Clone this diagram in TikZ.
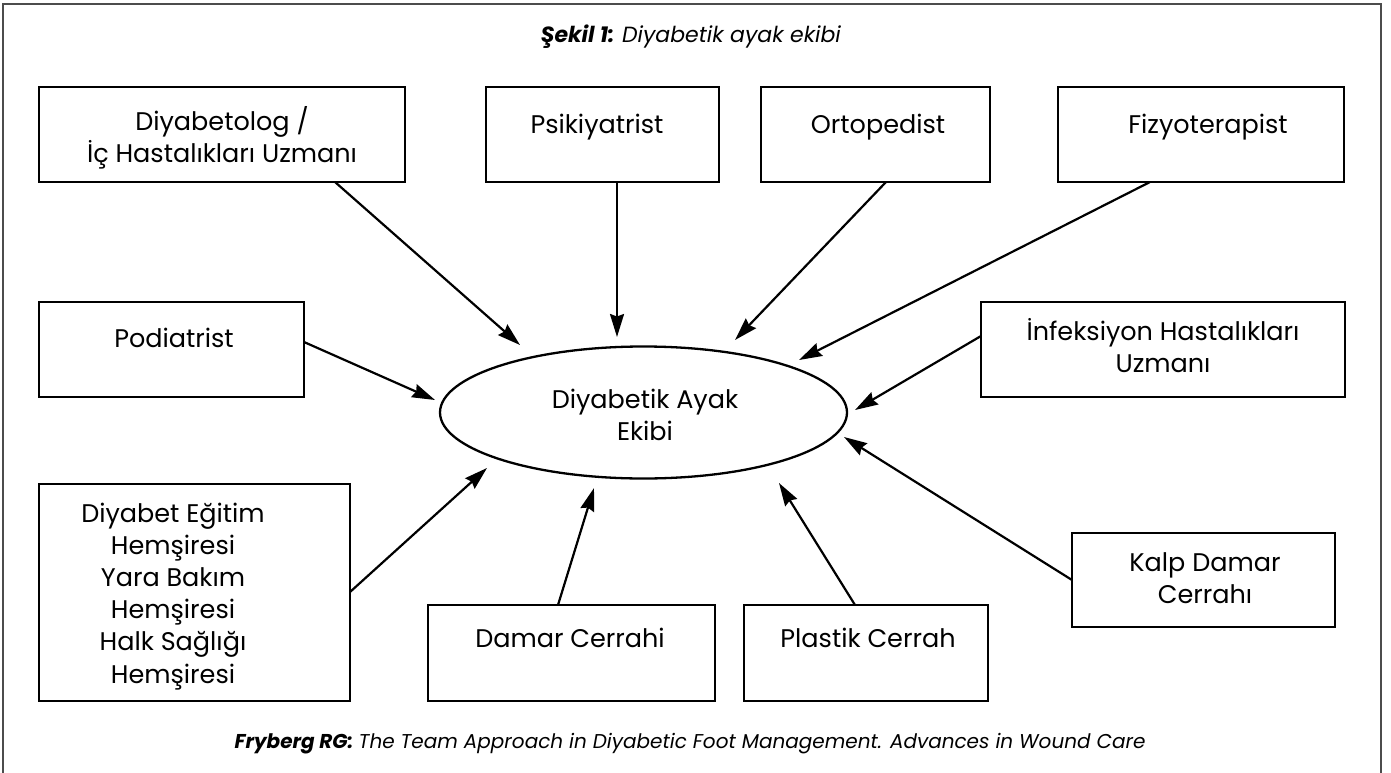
\documentclass[tikz,border=0pt]{standalone}
\usepackage{fontspec}
\setmainfont{Poppins}
\usetikzlibrary{arrows.meta,shapes.geometric,calc}
\tikzset{
  box/.style={draw, line width=2.4pt, inner sep=0pt, outer sep=0pt},
  lbl/.style={font=\fontsize{25.5}{31.5}\selectfont, align=center, inner sep=0pt, anchor=base},
  captext/.style={inner sep=0pt, anchor=base},
  arr/.style={line width=2.2pt, -{Stealth[length=23pt,width=14pt,inset=2.5pt]}},
  framel/.style={draw=black!70, line width=1.6pt}
}
\begin{document}
\begin{tikzpicture}[x=1pt,y=-1pt]
\useasboundingbox (0,0) rectangle (1391,773);
\draw[framel] (3,773) -- (3,4) -- (1381,4) -- (1381,773);

\node[captext, font=\fontsize{22}{24}\selectfont] (title) at (691,43) {\textbf{\textit{Şekil 1:}} \textit{Diyabetik ayak ekibi}};
\node[captext, font=\fontsize{20}{24}\selectfont] (foot) at (690,748) {\textbf{\textit{Fryberg RG:}} \textit{The Team Approach in Diyabetic Foot Management. Advances in Wound Care}};

% boxes
\node[box, minimum width=366pt, minimum height=95pt] (diab) at (222,134.5) {};
\node[box, minimum width=233pt, minimum height=95pt] (psik) at (602.5,134.5) {};
\node[box, minimum width=229pt, minimum height=95pt] (orto) at (875.5,134.5) {};
\node[box, minimum width=286pt, minimum height=95pt] (fizy) at (1201,134.5) {};
\node[box, minimum width=265pt, minimum height=95pt] (podi) at (171.5,349.5) {};
\node[box, minimum width=364pt, minimum height=95pt] (infe) at (1163,349.5) {};
\node[box, minimum width=311pt, minimum height=217pt] (nurse) at (194.5,592.5) {};
\node[box, minimum width=287pt, minimum height=96pt] (dama) at (571.5,653) {};
\node[box, minimum width=244pt, minimum height=96pt] (plas) at (866,653) {};
\node[box, minimum width=263pt, minimum height=94pt] (kalp) at (1203.5,580) {};
\node[draw, ellipse, line width=2.3pt, minimum width=407pt, minimum height=132pt, inner sep=0pt] (team) at (643.5,412.5) {};

% labels (base anchor = baseline of the last line)
\node[lbl] (diabt) at (222,162) {Diyabetolog /\\İç Hastalıkları Uzmanı};
\node[lbl] (psikt) at (597,133) {Psikiyatrist};
\node[lbl] (ortot) at (878,133) {Ortopedist};
\node[lbl] (fizyt) at (1208,133) {Fizyoterapist};
\node[lbl] (podit) at (174,347) {Podiatrist};
\node[lbl] (infet) at (1163,372) {İnfeksiyon Hastalıkları\\Uzmanı};
\node[lbl] (teamt) at (645,440) {Diyabetik Ayak\\Ekibi};
\node[lbl, font=\fontsize{25.5}{32.2}\selectfont] (nurset) at (173,683) {Diyabet Eğitim\\Hemşiresi\\Yara Bakım\\Hemşiresi\\Halk Sağlığı\\Hemşiresi};
\node[lbl] (damat) at (570,647) {Damar Cerrahi};
\node[lbl] (plast) at (868,647) {Plastik Cerrah};
\node[lbl] (kalpt) at (1205,603) {Kalp Damar\\Cerrahı};

% arrow tips near the ellipse
\coordinate (tdiab) at (520,345);
\coordinate (tpsik) at (617,337);
\coordinate (torto) at (735,340);
\coordinate (tfizy) at (799,360);
\coordinate (tpodi) at (435,400);
\coordinate (tinfe) at (855,410);
\coordinate (tnurse) at (487,468);
\coordinate (tdama) at (594,488);
\coordinate (tplas) at (779,483);
\coordinate (tkalp) at (844,437);

\draw[arr] ([xshift=-70pt]diab.south east) -- (tdiab);
\draw[arr] ([xshift=14.5pt]psik.south) -- (tpsik);
\draw[arr] ([xshift=10.5pt]orto.south) -- (torto);
\draw[arr] ([xshift=-51pt]fizy.south) -- (tfizy);
\draw[arr] ([yshift=7.5pt]podi.east) -- (tpodi);
\draw[arr] ([yshift=13.5pt]infe.west) -- (tinfe);
\draw[arr] ([yshift=0.5pt]nurse.east) -- (tnurse);
\draw[arr] ([xshift=-13.5pt]dama.north) -- (tdama);
\draw[arr] ([xshift=-11pt]plas.north) -- (tplas);
\draw[arr] (kalp.west) -- (tkalp);
\end{tikzpicture}
\end{document}
